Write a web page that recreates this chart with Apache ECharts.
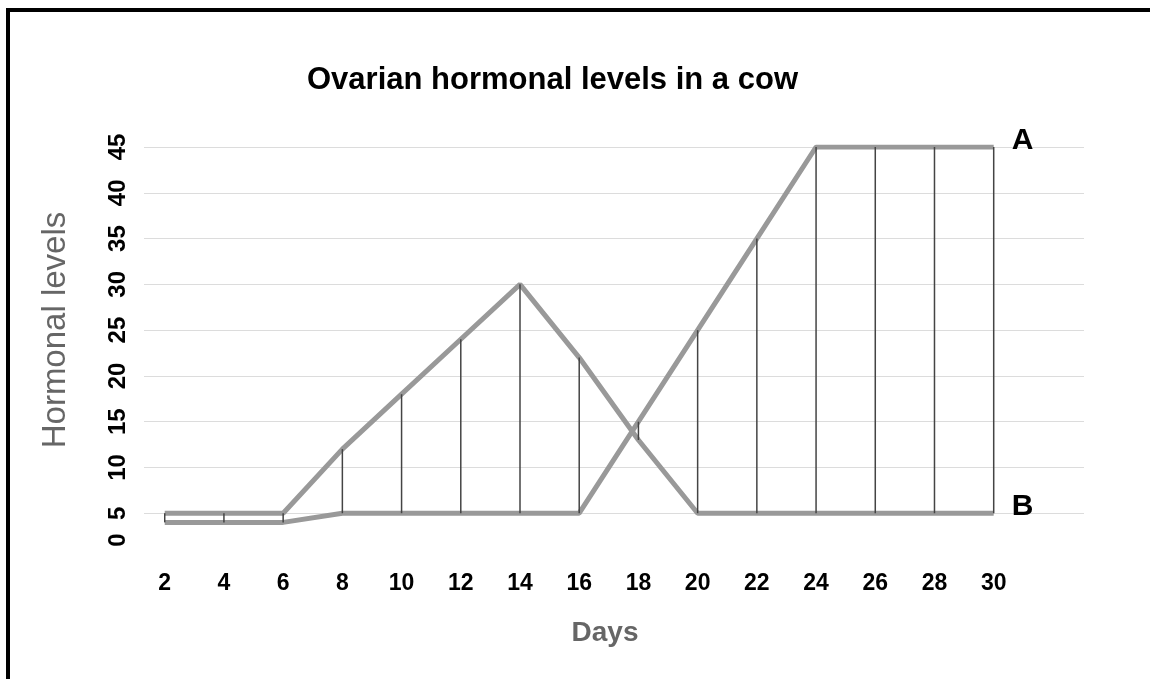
<!DOCTYPE html>
<html>
<head>
<meta charset="utf-8">
<script src="https://cdn.jsdelivr.net/npm/echarts@6/dist/echarts.min.js"></script>
<style>
  html, body { margin: 0; padding: 0; background: #fff; }
  #wrap { position: relative; width: 1150px; height: 679px; overflow: hidden; }
  #frame { position: absolute; left: 6px; top: 8px; width: 1200px; height: 700px;
           border-top: 4px solid #000; border-left: 4px solid #000; }
  #chart { position: absolute; left: 0; top: 0; width: 1150px; height: 679px; }
</style>
</head>
<body>
<div id="wrap">
  <div id="frame"></div>
  <div id="chart"></div>
</div>
<script>
// days on the x axis
var days = [2, 4, 6, 8, 10, 12, 14, 16, 18, 20, 22, 24, 26, 28, 30];
// line ending at "A" (rises late)
var seriesA = [4, 4, 4, 5, 5, 5, 5, 5, 15, 25, 35, 45, 45, 45, 45];
// line ending at "B" (peaks at day 14)
var seriesB = [5, 5, 5, 12, 18, 24, 30, 22, 13, 5, 5, 5, 5, 5, 5];
var yTicks = [0, 5, 10, 15, 20, 25, 30, 35, 40, 45];

var font = 'Liberation Sans, Arial, sans-serif';

var lineA = days.map(function (d, i) { return [d, seriesA[i]]; });
var lineB = days.map(function (d, i) { return [d, seriesB[i]]; });
var drops = days.map(function (d, i) {
  return [d, Math.min(seriesA[i], seriesB[i]), Math.max(seriesA[i], seriesB[i])];
});

var chartDom = document.getElementById('chart');
var myChart = echarts.init(chartDom);
var option;

option = {
  animation: false,
  textStyle: { fontFamily: font },
  title: {
    text: 'Ovarian hormonal levels in a cow',
    left: 302,
    top: 60,
    textStyle: { fontFamily: font, fontSize: 31, fontWeight: 'bold', color: '#000' }
  },
  grid: {
    left: 144,
    right: 66,
    top: 147,
    bottom: 120
  },
  xAxis: {
    type: 'value',
    min: 1.3,
    max: 33.05,
    name: 'Days',
    nameLocation: 'middle',
    nameGap: 60,
    nameTextStyle: { fontFamily: font, fontSize: 28, fontWeight: 'bold', color: '#666', padding: [0, 18, 0, 0] },
    axisLine: { show: false },
    axisTick: { show: false },
    splitLine: { show: false },
    axisLabel: {
      customValues: days,
      margin: 13,
      fontFamily: font,
      fontSize: 23,
      fontWeight: 'bold',
      color: '#000'
    }
  },
  yAxis: {
    type: 'value',
    min: 0,
    max: 45,
    interval: 5,
    name: 'Hormonal levels',
    nameLocation: 'middle',
    nameGap: 72,
    nameTextStyle: { fontFamily: font, fontSize: 33, color: '#666', padding: [0, 0, 0, 46] },
    axisLine: { show: false },
    axisTick: { show: false },
    splitLine: { show: true, showMinLine: false, lineStyle: { color: '#dcdcdc', width: 1 } },
    axisLabel: {
      customValues: yTicks,
      rotate: 90,
      margin: 14,
      fontFamily: font,
      fontSize: 24,
      fontWeight: 'bold',
      color: '#000',
      formatter: function (v) { return v === 0 ? '{z|0}' : String(v); },
      rich: {
        z: { fontFamily: font, fontSize: 24, fontWeight: 'bold', color: '#000', padding: [0, 0, 0, 38] }
      }
    }
  },
  series: [
    {
      name: 'A',
      type: 'line',
      data: lineA,
      symbol: 'none',
      z: 2,
      lineStyle: { color: '#999', width: 5 },
      endLabel: {
        show: true,
        formatter: 'A',
        distance: 18,
        offset: [0, -6],
        fontFamily: font,
        fontSize: 30,
        fontWeight: 'bold',
        color: '#000'
      }
    },
    {
      name: 'B',
      type: 'line',
      data: lineB,
      symbol: 'none',
      z: 2,
      lineStyle: { color: '#999', width: 5 },
      endLabel: {
        show: true,
        formatter: 'B',
        distance: 18,
        offset: [0, -6],
        fontFamily: font,
        fontSize: 30,
        fontWeight: 'bold',
        color: '#000'
      }
    },
    {
      type: 'custom',
      data: drops,
      z: 3,
      encode: { x: 0, y: [1, 2] },
      renderItem: function (params, api) {
        var x = api.value(0);
        var p1 = api.coord([x, api.value(1)]);
        var p2 = api.coord([x, api.value(2)]);
        return {
          type: 'line',
          shape: { x1: p1[0], y1: p1[1], x2: p2[0], y2: p2[1] },
          style: { stroke: '#444', lineWidth: 1.5 }
        };
      }
    }
  ]
};

option && myChart.setOption(option);
</script>
</body>
</html>
